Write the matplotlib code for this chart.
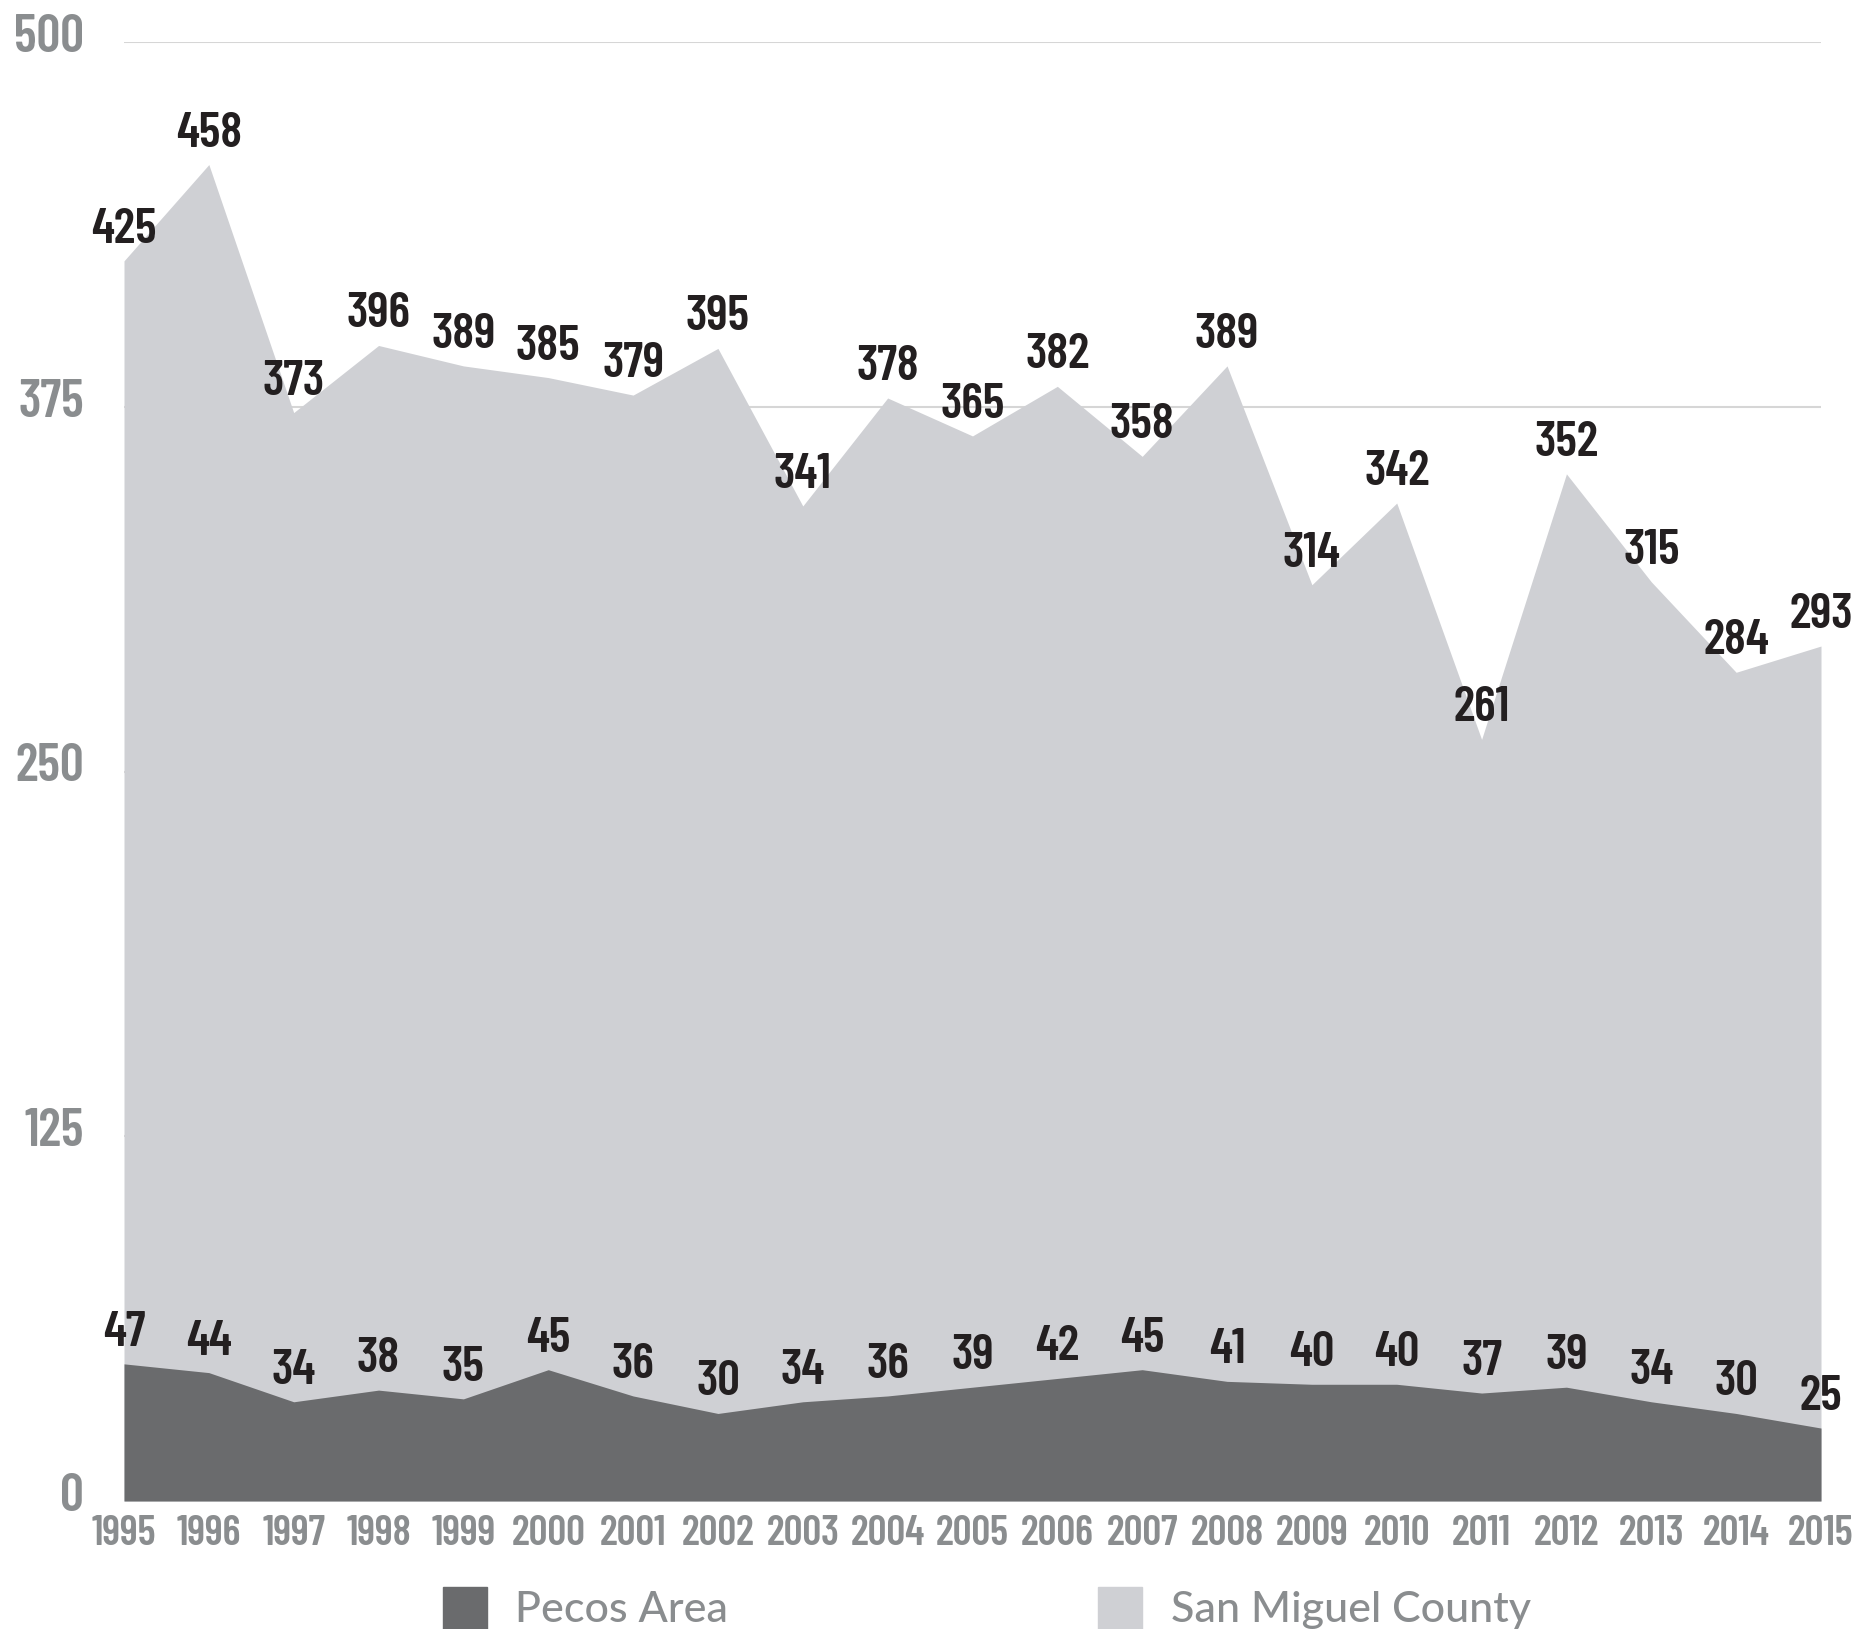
import matplotlib
matplotlib.use("Agg")
import matplotlib.pyplot as plt
from matplotlib.patches import Rectangle
from matplotlib.transforms import ScaledTranslation

# data
years = list(range(1995, 2016))
san_miguel = [425, 458, 373, 396, 389, 385, 379, 395, 341, 378, 365,
              382, 358, 389, 314, 342, 261, 352, 315, 284, 293]
pecos = [47, 44, 34, 38, 35, 45, 36, 30, 34, 36, 39,
         42, 45, 41, 40, 40, 37, 39, 34, 30, 25]
yticks = [0, 125, 250, 375, 500]
series_names = ["Pecos Area", "San Miguel County"]

light = "#cfd0d4"
dark = "#6a6b6d"
tickgray = "#8a8d8f"
labelblack = "#231f20"
cond = ["Barlow Condensed", "DejaVu Sans"]
legfont = ["Lato", "DejaVu Sans"]

W, H = 1853, 1629
fig = plt.figure(figsize=(W / 100, H / 100), dpi=100)
ax = fig.add_axes([124 / W, 1 - 1501 / H, (1821 - 124) / W, (1501 - 42) / H])

for y in yticks[1:]:
    ax.axhline(y, color="#d6d6d6", lw=1.5, zorder=0)

ax.fill_between(years, 0, san_miguel, color=light, lw=0, zorder=1)
ax.fill_between(years, 0, pecos, color=dark, lw=0, zorder=2)

for series in (san_miguel, pecos):
    for x, v in zip(years, series):
        ax.annotate(str(v), (x, v), xytext=(0, 13), textcoords="offset points",
                    ha="center", va="baseline", fontsize=36, fontweight=600,
                    family=cond, color=labelblack, zorder=5, annotation_clip=False)

ax.set_xlim(1995, 2015)
ax.set_ylim(0, 500)
ax.set_xticks(years)
ax.set_xticklabels([str(y) for y in years])
ax.set_yticks(yticks)
ax.set_yticklabels([str(y) for y in yticks])
ax.tick_params(axis="both", length=0, colors=tickgray)
ax.tick_params(axis="x", pad=10)
ax.tick_params(axis="y", pad=29)
for lab in ax.get_xticklabels():
    lab.set_fontsize(30)
    lab.set_fontweight(600)
    lab.set_family(cond)
for lab in ax.get_yticklabels():
    lab.set_fontsize(38)
    lab.set_fontweight(600)
    lab.set_family(cond)
    lab.set_transform(lab.get_transform() + ScaledTranslation(0, 6.5 / 72, fig.dpi_scale_trans))
for s in ax.spines.values():
    s.set_visible(False)

# legend
for (x0, tx), name, col in zip([(443, 515), (1098, 1171)], series_names, [dark, light]):
    fig.patches.append(Rectangle((x0 / W, 0), 44 / W, 42 / H, color=col,
                                 transform=fig.transFigure, figure=fig))
    fig.text(tx / W, 1 - 1622 / H, name, fontsize=31, fontweight=500, family=legfont,
             color=tickgray, va="baseline", ha="left")

fig.savefig("out.png", dpi=100)
